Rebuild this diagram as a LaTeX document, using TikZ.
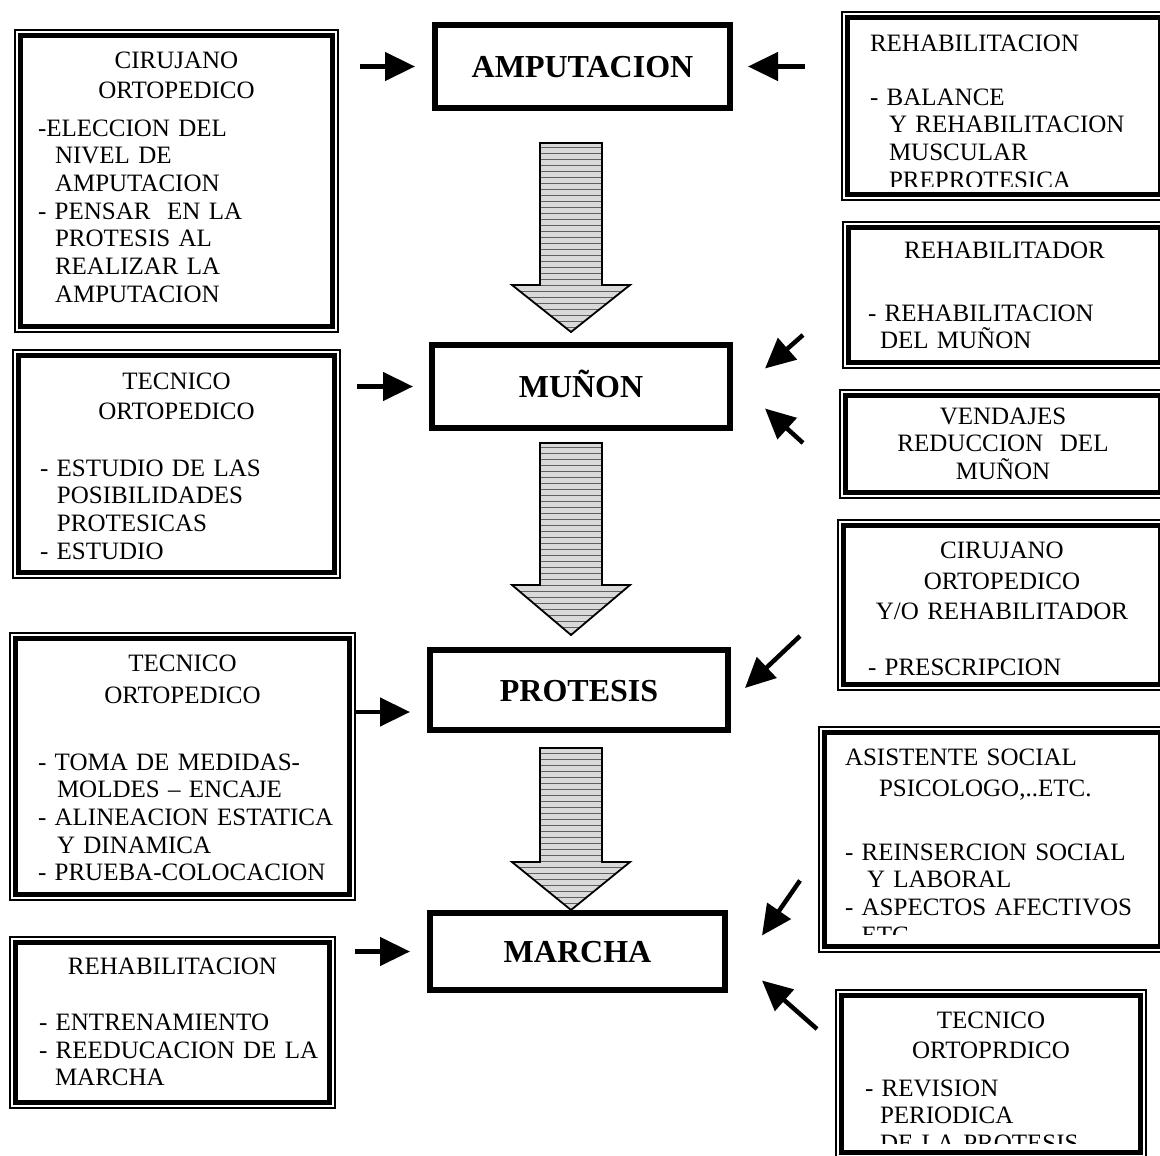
\documentclass[tikz,border=0pt]{standalone}
\usepackage{fontspec}
\setmainfont{Liberation Serif}
\usetikzlibrary{arrows.meta,calc,patterns.meta}

\newcommand{\panelfont}{\fontsize{25}{27.7}\selectfont}
\newcommand{\stagefont}{\fontsize{32}{36}\selectfont\bfseries}
\newcommand{\ctrw}{0pt}
\newcommand{\ctr}[1]{\makebox[\ctrw]{#1}}
% text of a side box (clipped at the bottom), then its inner thick frame
\newcommand{\paneltext}[5]{%
  \renewcommand{\ctrw}{#3pt}%
  \begin{scope}
    \clip ([yshift=#4pt]path picture bounding box.south west) rectangle (path picture bounding box.north east);
    \node[paneltxt] at ([xshift=#1pt,yshift=-#2pt]path picture bounding box.north west) {#5};
  \end{scope}
  \draw[white, line width=6pt] (path picture bounding box.south west) rectangle (path picture bounding box.north east);
  \draw[line width=5pt] ([xshift=5.5pt,yshift=5.5pt]path picture bounding box.south west) rectangle ([xshift=-5.5pt,yshift=-5.5pt]path picture bounding box.north east);}

\begin{document}
\begin{tikzpicture}[x=1pt,y=-1pt]
  \tikzstyle{panel}=[draw, line width=1.3pt, inner sep=0pt, outer sep=0pt, anchor=north west]
  \tikzstyle{paneltxt}=[anchor=north west, inner sep=0pt, outer sep=0pt, text width=400pt, align=left, font=\panelfont, draw=none, fill=none, minimum width=0pt, minimum height=0pt]
  \tikzstyle{stage}=[draw, line width=5.5pt, inner sep=0pt, outer sep=0pt, anchor=north west, font=\stagefont, text height=22pt, text depth=0pt]
  \tikzstyle{feed}=[line width=4.5pt, -{Triangle[length=30pt,width=28pt]}]
  \tikzstyle{flow}=[draw, line width=1.8pt, line join=miter, preaction={fill=gray!30}, pattern={Lines[angle=0,distance=6pt,line width=1pt]}, pattern color=gray!75!black]

  \useasboundingbox (0,0) rectangle (1160,1156);
  \clip (0,0) rectangle (1160,1156);
  \fill[white] (0,0) rectangle (1160,1156);

  % central sequence
  \node[stage, minimum width=295pt, minimum height=83pt] (amp) at (435,25) {AMPUTACION};
  \node[stage, minimum width=298pt, minimum height=83pt] (mun) at (432,345) {MUÑON};
  \node[stage, minimum width=298pt, minimum height=80pt] (pro) at (430,650) {PROTESIS};
  \node[stage, minimum width=295pt, minimum height=77pt] (mar) at (430,913) {MARCHA};

  \foreach \t/\m/\b in {143/285/332, 443/585/635, 748/862/910}
    \draw[flow] (540,\t) -- (602,\t) -- (602,\m) -- (630,\m) -- (571,\b) -- (512,\m) -- (540,\m) -- cycle;

  % left boxes
  \node[panel, minimum width=323pt, minimum height=302pt, path picture={\paneltext{23}{21.5}{277}{0}{%
    \ctr{CIRUJANO}\\[2.3pt]\ctr{ORTOPEDICO}\\[10.3pt]-ELECCION DEL\\\hspace*{17pt}NIVEL DE\\\hspace*{17pt}AMPUTACION\\- PENSAR\ \ EN LA\\\hspace*{17pt}PROTESIS AL\\\hspace*{17pt}REALIZAR LA\\\hspace*{17pt}AMPUTACION}}] (lcir) at (15,30) {};
  \node[panel, minimum width=327pt, minimum height=228pt, path picture={\paneltext{27}{22.5}{273}{0}{%
    \ctr{TECNICO}\\[2.3pt]\ctr{ORTOPEDICO}\\[29.3pt]- ESTUDIO DE LAS\\\hspace*{17pt}POSIBILIDADES\\\hspace*{17pt}PROTESICAS\\- ESTUDIO}}] (ltec) at (13,350) {};
  \node[panel, minimum width=345pt, minimum height=267pt, path picture={\paneltext{28}{21.5}{289}{0}{%
    \ctr{TECNICO}\\[4.3pt]\ctr{ORTOPEDICO}\\[39.3pt]- TOMA DE MEDIDAS-\\\hspace*{19pt}MOLDES – ENCAJE\\- ALINEACION ESTATICA\\\hspace*{19pt}Y DINAMICA\\- PRUEBA-COLOCACION}}] (lmed) at (10,633) {};
  \node[panel, minimum width=325pt, minimum height=171pt, path picture={\paneltext{29}{21}{267}{0}{%
    \ctr{REHABILITACION}\\[28.3pt]- ENTRENAMIENTO\\- REEDUCACION DE LA\\\hspace*{16pt}MARCHA}}] (lent) at (10,937) {};

  % right boxes
  \node[panel, minimum width=324pt, minimum height=188pt, path picture={\paneltext{28}{22.5}{268}{14}{%
    REHABILITACION\\[26.3pt]- BALANCE\\\hspace*{19pt}Y REHABILITACION\\\hspace*{19pt}MUSCULAR\\\hspace*{19pt}PREPROTESICA}}] (rreh) at (842,12) {};
  \node[panel, minimum width=323pt, minimum height=146pt, path picture={\paneltext{25}{19.5}{273}{0}{%
    \ctr{REHABILITADOR}\\[35.3pt]- REHABILITACION\\\hspace*{12pt}DEL MUÑON}}] (rdor) at (843,222) {};
  \node[panel, minimum width=326pt, minimum height=108pt, path picture={\paneltext{25}{17.5}{276}{0}{%
    \ctr{VENDAJES}\\\ctr{REDUCCION\ \ DEL}\\\ctr{MUÑON}}}] (rven) at (840,390) {};
  \node[panel, minimum width=328pt, minimum height=170pt, path picture={\paneltext{30}{21.5}{268}{0}{%
    \ctr{CIRUJANO}\\[3.3pt]\ctr{ORTOPEDICO}\\[2.3pt]\ctr{Y/O REHABILITADOR}\\[28.3pt]- PRESCRIPCION}}] (rpre) at (838,520) {};
  \node[panel, minimum width=347pt, minimum height=225pt, path picture={\paneltext{26}{21.5}{295}{18}{%
    ASISTENTE SOCIAL\\[3.3pt]\hspace*{34pt}PSICOLOGO,..ETC.\\[36.3pt]- REINSERCION SOCIAL\\\hspace*{22pt}Y LABORAL\\- ASPECTOS AFECTIVOS\\- ETC}}] (rsoc) at (819,727) {};
  \node[panel, minimum width=310pt, minimum height=168pt, path picture={\paneltext{29}{21.5}{252}{15}{%
    \ctr{TECNICO}\\[2.3pt]\ctr{ORTOPRDICO}\\[10.3pt]- REVISION\\\hspace*{15pt}PERIODICA\\\hspace*{15pt}DE LA PROTESIS}}] (rrev) at (836,990) {};

  % contributions
  \coordinate (pin) at ($(pro.west)+(0,22)$);
  \draw[feed, shorten <=22pt, shorten >=20pt] (amp.west -| lcir.east) -- (amp.west);
  \draw[feed, shorten <=37pt, shorten >=18pt] (amp.east -| rreh.west) -- (amp.east);
  \draw[feed] ($(rdor.south west)+(-40,-33)$) -- ($(mun.east)+(35,-18)$);
  \draw[feed] ($(rven.west)+(-37,-1)$) -- ($(mun.east)+(35,22)$);
  \draw[feed, shorten <=17pt, shorten >=19pt] (mun.west -| ltec.east) -- (mun.west);
  \draw[feed] ($(rpre.west)+(-38,31)$) -- ($(pro.east)+(17,-2)$);
  \draw[feed, shorten >=20pt] (pin -| lmed.east) -- (pin);
  \draw[feed] ($(rsoc.west)+(-19,41)$) -- ($(mar.east)+(37,-16)$);
  \draw[feed] ($(rrev.west)+(-19,-45)$) -- ($(mar.east)+(37,29)$);
  \draw[feed, shorten <=20pt, shorten >=20pt] (mar.west -| lent.east) -- (mar.west);
\end{tikzpicture}
\end{document}
